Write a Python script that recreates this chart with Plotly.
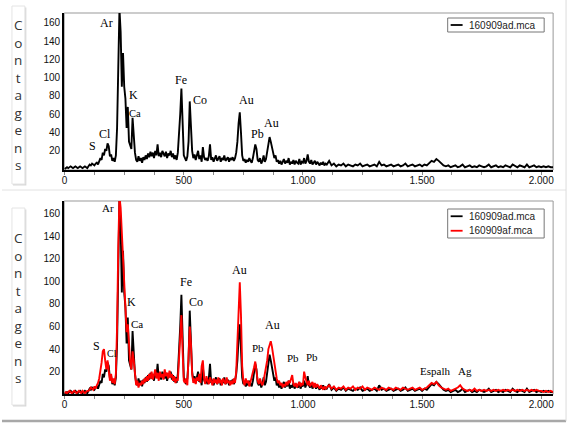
import plotly.graph_objects as go

W, H = 578, 429

# ---------------- data (channel, counts) ----------------
ch_lo = list(range(0, 1100, 5))
ch_hi = list(range(1100, 2051, 10))
channels = ch_lo + ch_hi

ad_lo = [
    0, 1, 2, 1, 2, 3, 2, 1, 2, 3,
    2, 1, 2, 3, 2, 1, 2, 3, 2, 1,
    3, 5, 4, 6, 5, 4, 6, 7, 5, 9,
    12, 10, 18, 15, 22, 20, 28, 25, 14, 16,
    9, 12, 8, 15, 45, 110, 175, 150, 90, 127,
    90, 77, 45, 68, 30, 26, 22, 56, 35, 18,
    10, 8, 14, 9, 12, 7, 13, 10, 15, 11,
    17, 13, 19, 14, 18, 12, 20, 15, 27, 14,
    18, 13, 20, 16, 14, 19, 12, 17, 15, 20,
    13, 17, 11, 15, 10, 18, 35, 60, 88, 40,
    15, 12, 9, 14, 30, 74, 45, 20, 12, 16,
    10, 14, 20, 11, 15, 8, 24, 13, 10, 12,
    9, 14, 27, 10, 13, 8, 12, 15, 9, 11,
    14, 8, 12, 10, 15, 9, 11, 13, 8, 12,
    10, 13, 9, 12, 18, 30, 50, 62, 40, 15,
    9, 11, 7, 10, 8, 12, 9, 7, 12, 18,
    27, 22, 10, 8, 12, 6, 9, 15, 8, 11,
    20, 28, 35, 30, 25, 18, 12, 15, 8, 10,
    6, 9, 5, 8, 11, 6, 9, 7, 12, 5,
    8, 6, 10, 5, 9, 7, 6, 11, 5, 8,
    7, 12, 6, 9, 16, 8, 6, 10, 5, 7,
    9, 5, 8, 6, 4, 7, 5, 8, 4, 6,
]
ad_hi = [
    5, 9, 4, 6, 3, 5, 4, 6, 3, 5,
    4, 3, 5, 4, 6, 3, 4, 5, 3, 4,
    5, 3, 8, 4, 5, 3, 4, 5, 3, 4,
    5, 3, 4, 6, 3, 4, 5, 3, 4, 5,
    3, 5, 4, 7, 9, 8, 11, 9, 6, 4,
    3, 4, 2, 3, 4, 2, 3, 5, 2, 3,
    4, 2, 3, 2, 4, 3, 2, 3, 5, 2,
    3, 4, 2, 3, 2, 4, 3, 2, 5, 3,
    2, 4, 3, 2, 5, 2, 3, 4, 2, 3,
    2, 3, 2, 3, 2, 2,
]
af_lo = [
    1, 2, 1, 2, 3, 2, 1, 2, 3, 2,
    1, 2, 3, 2, 1, 3, 2, 1, 2, 3,
    3, 4, 6, 5, 4, 7, 5, 8, 10, 14,
    20, 28, 38, 40, 30, 22, 30, 20, 12, 18,
    10, 14, 9, 18, 60, 130, 175, 165, 140, 118,
    90, 70, 55, 62, 40, 28, 22, 38, 30, 20,
    8, 12, 6, 10, 8, 12, 9, 14, 11, 16,
    12, 18, 14, 20, 13, 17, 22, 14, 19, 12,
    20, 15, 18, 13, 22, 16, 19, 14, 21, 15,
    18, 12, 16, 10, 14, 12, 30, 50, 70, 38,
    12, 10, 14, 8, 35, 60, 45, 18, 10, 14,
    9, 15, 12, 18, 10, 25, 30, 14, 9, 16,
    12, 9, 15, 12, 8, 14, 10, 13, 9, 15,
    10, 13, 8, 14, 11, 9, 15, 10, 12, 8,
    12, 9, 14, 10, 20, 45, 80, 99, 70, 25,
    12, 8, 14, 10, 12, 7, 11, 15, 18, 24,
    29, 20, 12, 9, 14, 10, 8, 12, 18, 22,
    30, 40, 45, 47, 42, 35, 25, 18, 14, 10,
    12, 8, 10, 6, 9, 7, 11, 8, 12, 10,
    14, 17, 9, 7, 10, 6, 9, 11, 7, 10,
    8, 20, 15, 10, 8, 12, 7, 9, 11, 6,
    10, 6, 9, 7, 5, 8, 6, 4, 7, 5,
]
af_hi = [
    6, 8, 5, 7, 4, 6, 5, 7, 4, 6,
    5, 7, 4, 6, 5, 7, 4, 6, 5, 4,
    6, 5, 4, 6, 5, 4, 6, 5, 4, 6,
    5, 4, 6, 5, 4, 5, 6, 4, 5, 6,
    4, 5, 6, 8, 10, 9, 11, 8, 6, 5,
    4, 5, 3, 4, 5, 6, 8, 5, 4, 3,
    4, 3, 5, 3, 4, 3, 4, 3, 4, 3,
    4, 3, 4, 3, 4, 3, 4, 3, 4, 3,
    4, 3, 4, 3, 4, 3, 4, 3, 4, 3,
    3, 2, 3, 2, 3, 2,
]
counts_ad = ad_lo + ad_hi
counts_af = af_lo + af_hi

series_names = ["160909ad.mca", "160909af.mca"]
series_colors = ["black", "#ff0000"]
tick_vals = [0, 500, 1000, 1500, 2000]
tick_text = ["0", "500", "1.000", "1.500", "2.000"]
y_ticks = [20, 40, 60, 80, 100, 120, 140, 160]

# peak labels: (text, channel, counts, font size)
labels_top = [
    ("Ar", 175, 160, 12), ("K", 289, 81, 12), ("Ca", 297, 61, 10.5),
    ("Fe", 490, 97, 12), ("Co", 569, 76, 12), ("Au", 764, 76, 12),
    ("Pb", 809, 38, 12), ("Au", 867, 50, 12), ("Cl", 168, 38, 12),
    ("S", 116, 25, 12),
]
labels_bot = [
    ("Ar", 182, 165, 11), ("K", 279, 82, 12), ("Ca", 303, 62, 11),
    ("Fe", 510, 99, 12), ("Co", 552, 82, 12), ("Au", 733, 110, 12),
    ("Au", 874, 61, 12), ("Pb", 812, 41, 11), ("S", 134, 43, 12),
    ("Cl", 199, 36, 10), ("Pb", 960, 32, 11), ("Pb", 1038, 33, 11),
    ("Espalh", 1554, 21, 11), ("Ag", 1681, 21, 11),
]


def px(x):
    return x / W


def py(y):
    return 1 - y / H


fig = go.Figure()
fig.add_trace(go.Scatter(x=channels, y=counts_ad, mode="lines", name=series_names[0],
                         line=dict(color=series_colors[0], width=1.9), xaxis="x", yaxis="y",
                         showlegend=False))
fig.add_trace(go.Scatter(x=channels, y=counts_ad, mode="lines", name=series_names[0],
                         line=dict(color=series_colors[0], width=1.9), xaxis="x2", yaxis="y2",
                         showlegend=False))
fig.add_trace(go.Scatter(x=channels, y=counts_af, mode="lines", name=series_names[1],
                         line=dict(color=series_colors[1], width=1.9), xaxis="x2", yaxis="y2",
                         showlegend=False))

tickfont = dict(family="Liberation Sans, Arial", size=10, color="#111")
xcommon = dict(range=[-2, 2050], tickvals=tick_vals, ticktext=tick_text, showgrid=False,
               zeroline=False, showline=True, linecolor="black", linewidth=2,
               ticks="", tickfont=tickfont,
               minor=dict(dtick=125, tick0=0, ticks="outside", ticklen=3, tickcolor="#888"))
ycommon = dict(tickvals=y_ticks, showgrid=False, zeroline=False, showline=True,
               linecolor="black", linewidth=2, ticks="", tickfont=tickfont)

top_dom = [py(170), py(13)]
bot_dom = [py(394.3), py(201)]
x_dom = [px(62.5), px(554)]

fig.update_layout(
    width=W, height=H, margin=dict(l=0, r=0, t=0, b=0),
    paper_bgcolor="white", plot_bgcolor="white",
    xaxis=dict(domain=x_dom, anchor="y", **xcommon),
    yaxis=dict(domain=top_dom, anchor="x", range=[-1, 170.7], **ycommon),
    xaxis2=dict(domain=x_dom, anchor="y2", **xcommon),
    yaxis2=dict(domain=bot_dom, anchor="x2", range=[0, 171], **ycommon),
    showlegend=False,
)

shapes = []
ann = []
# plot frames (gray)
for (yt, yb) in [(13, 170), (201, 394.3)]:
    shapes.append(dict(type="rect", xref="paper", yref="paper", x0=px(62.5), x1=px(554),
                       y0=py(yb), y1=py(yt), line=dict(color="#999", width=1), layer="below"))
# "Contagens" boxes with shadow
for (yt, yb) in [(6, 184), (208, 405)]:
    shapes.append(dict(type="rect", xref="paper", yref="paper", x0=px(11), x1=px(24.5),
                       y0=py(yb + 1.5), y1=py(yt + 1.5), line=dict(width=0),
                       fillcolor="#d8d8d8", layer="below"))
    shapes.append(dict(type="rect", xref="paper", yref="paper", x0=px(10), x1=px(23),
                       y0=py(yb), y1=py(yt), line=dict(color="#e4e4e4", width=1),
                       fillcolor="white", layer="below"))
# separators
shapes.append(dict(type="line", xref="paper", yref="paper", x0=0, x1=px(567),
                   y0=py(190), y1=py(190), line=dict(color="#e2e2e2", width=1)))
shapes.append(dict(type="line", xref="paper", yref="paper", x0=0, x1=px(567),
                   y0=py(421), y1=py(421), line=dict(color="#a8a8a8", width=2.5)))
shapes.append(dict(type="line", xref="paper", yref="paper", x0=px(567), x1=px(567),
                   y0=py(421), y1=py(0), line=dict(color="#dcdcdc", width=1)))

# legends (box, line samples, names)
legfont = dict(family="Liberation Sans, Arial", size=10, color="#222")
legend_specs = [((18, 32), [0]), ((209, 238), [0, 1])]
for (yt, yb), idxs in legend_specs:
    shapes.append(dict(type="rect", xref="paper", yref="paper", x0=px(448), x1=px(545),
                       y0=py(yb), y1=py(yt), line=dict(color="#777", width=1),
                       fillcolor="white"))
    n = len(idxs)
    step = (yb - yt) / n
    for k, i in enumerate(idxs):
        yc = yt + step * (k + 0.5)
        shapes.append(dict(type="line", xref="paper", yref="paper", x0=px(451), x1=px(463),
                           y0=py(yc), y1=py(yc),
                           line=dict(color=series_colors[i], width=1.8)))
        ann.append(dict(text=series_names[i], xref="paper", yref="paper", x=px(467),
                        y=py(yc), xanchor="left", yanchor="middle", showarrow=False,
                        font=legfont))
fig.update_layout(shapes=shapes)

for yc in (95, 308):
    ann.append(dict(text="<br>".join("Contagens"), xref="paper", yref="paper",
                    x=px(16.5), y=py(yc), showarrow=False, xanchor="center", yanchor="middle",
                    font=dict(family="Open Sans, Liberation Sans", size=13.5, color="#333")))
for (t, cx, cy, fs) in labels_top:
    ann.append(dict(text=t, x=cx, y=cy, xref="x", yref="y", showarrow=False,
                    font=dict(family="Liberation Serif, Times New Roman", size=fs, color="black")))
for (t, cx, cy, fs) in labels_bot:
    ann.append(dict(text=t, x=cx, y=cy, xref="x2", yref="y2", showarrow=False,
                    font=dict(family="Liberation Serif, Times New Roman", size=fs, color="black")))
fig.update_layout(annotations=ann)

fig.write_html("out.html", config={"displayModeBar": False},
               post_script="document.body.style.margin='0';document.body.style.padding='0';")
